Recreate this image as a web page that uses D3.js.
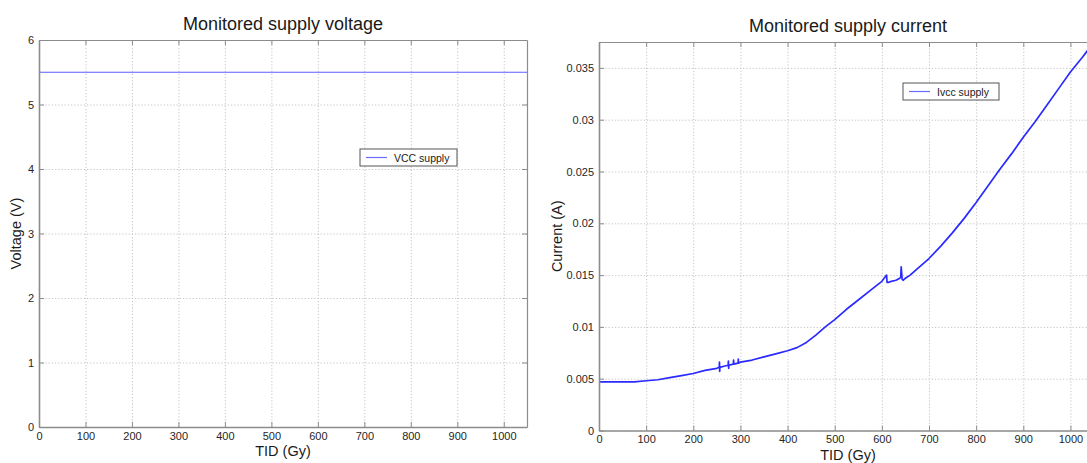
<!DOCTYPE html>
<html>
<head>
<meta charset="utf-8">
<script src="https://cdn.jsdelivr.net/npm/d3@7"></script>
<style>
  body { margin: 0; background: #fff; }
  svg { display: block; font-family: "Liberation Sans", Arial, sans-serif; }
  .tick text { fill: #262626; font-size: 11px; }
  .frame .domain, .frame .tick line { stroke: #8c8c8c; }
  .grid .domain { display: none; }
  .grid .tick line { stroke: #c4c4c4; stroke-dasharray: 1.2 2; }
</style>
</head>
<body>
<svg id="chart" width="1087" height="463"></svg>
<script>
// x ticks shared by both panels
const tidTicks = [0, 100, 200, 300, 400, 500, 600, 700, 800, 900, 1000];

// voltage panel
const voltTicks = [0, 1, 2, 3, 4, 5, 6];
const vccTid = [0, 1050];
const vccVolts = [5.5, 5.5];

// current panel
const currTicks = [0, 0.005, 0.01, 0.015, 0.02, 0.025, 0.03, 0.035];
const ivccTid = [0, 25, 50, 75, 100, 125, 150, 175, 200, 225, 250,
  255, 255.5, 256, 256.5, 265, 274, 274.5, 275, 275.5, 285, 285.5, 286, 295, 295.5, 296,
  300, 325, 350, 375, 400, 420, 440, 460, 480, 500, 525, 550, 575, 600, 610,
  611, 614, 620, 630, 638, 640, 641, 643, 645, 650, 660, 675, 700, 725, 750,
  775, 800, 825, 850, 875, 900, 925, 950, 975, 1000, 1025, 1045];
const ivccAmps = [0.0047, 0.0047, 0.0047, 0.0047, 0.0048, 0.0049, 0.0051, 0.0053, 0.0055, 0.0058, 0.0060,
  0.0061, 0.0066, 0.0057, 0.0061, 0.0062, 0.0063, 0.0067, 0.0060, 0.0063, 0.0064, 0.0068, 0.0064, 0.0065, 0.0069, 0.0065,
  0.0066, 0.0068, 0.0071, 0.0074, 0.0077, 0.0080, 0.0085, 0.0092, 0.0100, 0.0107, 0.0117, 0.0126, 0.0135, 0.0144, 0.0150,
  0.0143, 0.0143, 0.0144, 0.0145, 0.0147, 0.0148, 0.0158, 0.0146, 0.0145, 0.0147, 0.0150, 0.0156, 0.0166, 0.0178, 0.0191,
  0.0205, 0.0220, 0.0236, 0.0252, 0.0267, 0.0283, 0.0298, 0.0314, 0.0330, 0.0346, 0.0360, 0.0372];

const svg = d3.select("#chart");

function drawPanel(opt) {
  const { left, right, top, bottom } = opt;
  const width = right - left;
  const height = bottom - top;

  const xScale = d3.scaleLinear().domain([0, 1050]).range([0, width]);
  const yScale = d3.scaleLinear().domain(opt.yDomain).range([height, 0]);

  const g = svg.append("g").attr("transform", "translate(" + left + "," + top + ")");

  // grid
  g.append("g")
    .attr("class", "grid")
    .attr("transform", "translate(0," + height + ")")
    .call(d3.axisBottom(xScale).tickValues(tidTicks).tickSize(-height).tickFormat(""));
  g.append("g")
    .attr("class", "grid")
    .call(d3.axisLeft(yScale).tickValues(opt.yTicks).tickSize(-width).tickFormat(""));

  // data line
  const line = d3.line()
    .x((d) => xScale(d[0]))
    .y((d) => yScale(d[1]));
  const clipId = "clip-" + opt.id;
  g.append("clipPath").attr("id", clipId)
    .append("rect").attr("width", width).attr("height", height);
  g.append("path")
    .datum(opt.xs.map((x, i) => [x, opt.ys[i]]))
    .attr("clip-path", "url(#" + clipId + ")")
    .attr("fill", "none")
    .attr("stroke", opt.color)
    .attr("stroke-width", opt.lineWidth)
    .attr("stroke-linejoin", "round")
    .attr("d", line);

  // box with inward ticks, matlab style
  g.append("g")
    .attr("class", "frame")
    .attr("transform", "translate(0," + height + ")")
    .call(d3.axisBottom(xScale).tickValues(tidTicks).tickSizeInner(-5).tickSizeOuter(0).tickPadding(5)
      .tickFormat(d3.format("d")))
    .call((a) => a.select(".domain").attr("stroke-width", 1.6));
  g.append("g")
    .attr("class", "frame")
    .call(d3.axisTop(xScale).tickValues(tidTicks).tickSizeInner(-5).tickSizeOuter(0).tickFormat(""))
    .call((a) => a.select(".domain").attr("stroke-width", 1.2));
  g.append("g")
    .attr("class", "frame")
    .call(d3.axisLeft(yScale).tickValues(opt.yTicks).tickSizeInner(-5).tickSizeOuter(0).tickPadding(5)
      .tickFormat(opt.yFormat))
    .call((a) => a.select(".domain").attr("stroke-width", 1.6));
  g.append("g")
    .attr("class", "frame")
    .attr("transform", "translate(" + width + ",0)")
    .call(d3.axisRight(yScale).tickValues(opt.yTicks).tickSizeInner(-5).tickSizeOuter(0).tickFormat(""))
    .call((a) => a.select(".domain").attr("stroke-width", 1.2));

  // titles
  svg.append("text")
    .attr("x", opt.titleX).attr("y", top - 10)
    .attr("text-anchor", "middle")
    .attr("font-size", 18).attr("fill", "#1a1a1a")
    .text(opt.title);
  svg.append("text")
    .attr("x", opt.titleX).attr("y", bottom + 29)
    .attr("text-anchor", "middle")
    .attr("font-size", 14.5).attr("fill", "#1a1a1a")
    .text("TID (Gy)");
  svg.append("text")
    .attr("transform", "translate(" + opt.yLabelX + "," + (top + height / 2) + ") rotate(-90)")
    .attr("text-anchor", "middle")
    .attr("font-size", 14.5).attr("fill", "#1a1a1a")
    .text(opt.yLabel);

  // legend
  const lg = svg.append("g").attr("transform", "translate(" + opt.legend[0] + "," + opt.legend[1] + ")");
  lg.append("rect")
    .attr("width", opt.legend[2]).attr("height", 17)
    .attr("fill", "#fff").attr("stroke", "#555").attr("stroke-width", 1);
  lg.append("line")
    .attr("x1", 6).attr("x2", 27).attr("y1", 8.5).attr("y2", 8.5)
    .attr("stroke", "#6b6bff").attr("stroke-width", 1.2);
  lg.append("text")
    .attr("x", 34).attr("y", 12.5)
    .attr("font-size", 10.5).attr("fill", "#1a1a1a")
    .text(opt.legendText);
}

drawPanel({
  id: "volt",
  left: 39, right: 527, top: 40, bottom: 427,
  yDomain: [0, 6], yTicks: voltTicks, yFormat: d3.format("d"),
  xs: vccTid, ys: vccVolts, color: "#5c5cff", lineWidth: 1.1,
  title: "Monitored supply voltage", titleX: 283,
  yLabel: "Voltage (V)", yLabelX: 21,
  legend: [360, 149, 97], legendText: "VCC supply"
});

drawPanel({
  id: "curr",
  left: 599, right: 1094, top: 42, bottom: 430.5,
  yDomain: [0, 0.0375], yTicks: currTicks, yFormat: (d) => (d === 0 ? "0" : d3.format(".3~f")(d)),
  xs: ivccTid, ys: ivccAmps, color: "#2a2aff", lineWidth: 1.7,
  title: "Monitored supply current", titleX: 848,
  yLabel: "Current (A)", yLabelX: 562,
  legend: [903, 83, 96], legendText: "Ivcc supply"
});
</script>
</body>
</html>
